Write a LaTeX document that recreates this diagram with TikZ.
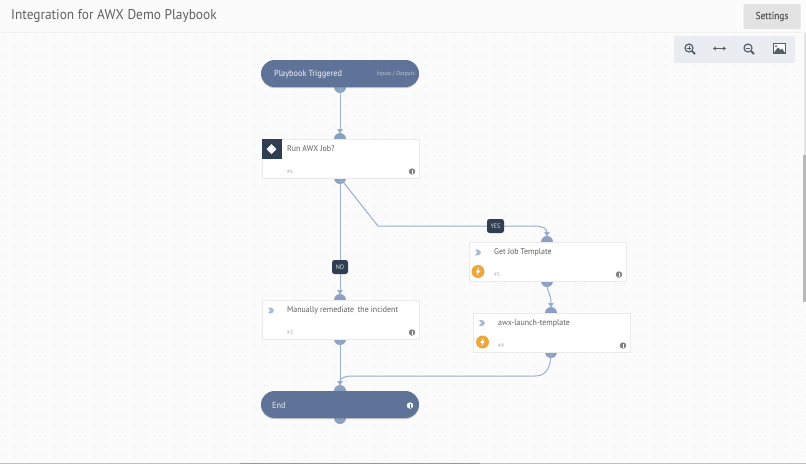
\documentclass[tikz,border=0pt]{standalone}
\usepackage{fontspec}
\setmainfont[FakeStretch=0.94]{PT Sans}
\usetikzlibrary{arrows.meta,calc,shadows}
\definecolor{bgc}{HTML}{FBFBFC}
\definecolor{dotc}{HTML}{E2E4EA}
\definecolor{bandc}{HTML}{5F7398}
\definecolor{portc}{HTML}{8CA1C1}
\definecolor{linec}{HTML}{9BAFCB}
\definecolor{dark}{HTML}{2F3E50}
\definecolor{txt}{HTML}{606064}
\definecolor{faint}{HTML}{A8A8AE}
\definecolor{amber}{HTML}{EBA83C}
\definecolor{chev}{HTML}{A9BBD6}
\definecolor{iconc}{HTML}{55606A}
\definecolor{toolc}{HTML}{E9EDF1}
\tikzset{
  x=1pt,y=-1pt,
  portn/.style={circle,fill=portc,minimum size=12pt,inner sep=0pt},
  softshadow/.style={general shadow={fill=black!50,opacity=.4,shadow xshift=0pt,shadow yshift=-1pt}},
  taskbox/.style={softshadow,draw=black!8,line width=.6pt,fill=white,minimum width=157pt,minimum height=39pt,inner sep=0pt},
  bandbox/.style={softshadow,fill=bandc,rounded corners=13.5pt,minimum width=158pt,minimum height=27pt,inner sep=0pt},
  wire/.style={draw=linec,line width=1pt},
  wirearrow/.style={wire,-{Triangle[length=4.5pt,width=5.5pt,fill=portc]}},
  tasktext/.style={text=txt,font=\fontsize{8.4}{10}\selectfont,anchor=west,inner sep=0pt},
  idtext/.style={text=faint,font=\fontsize{5.5}{6}\selectfont,anchor=west,inner sep=0pt},
  decision/.style={fill=dark,rounded corners=2.5pt,text=white!85!dark,font=\fontsize{6.5}{7}\selectfont,inner sep=0pt,minimum height=14pt},
  bolt/.style={circle,fill=amber,minimum size=13pt,inner sep=0pt},
  toolic/.style={draw=iconc,line width=1.2pt},
}
\newcommand{\chevico}[1]{\fill[chev] ($(#1)+(-3,-3)$) .. controls ($(#1)+(1,-3.5)$) and ($(#1)+(3,-1.5)$) .. ($(#1)+(3,0)$) .. controls ($(#1)+(3,1.5)$) and ($(#1)+(1,3.5)$) .. ($(#1)+(-3,3)$) -- ($(#1)+(-0.8,0)$) -- cycle;}
\newcommand{\boltico}[1]{\fill[white] ($(#1)+(1,-4)$) -- ($(#1)+(-2.3,0.8)$) -- ($(#1)+(-0.2,0.8)$) -- ($(#1)+(-1,4)$) -- ($(#1)+(2.3,-1)$) -- ($(#1)+(0.2,-1)$) -- cycle;}
\newcommand{\infoico}[3]{\fill[#2] (#1) circle (3.2pt); \fill[#3] ($(#1)+(-.45,-.6)$) rectangle ($(#1)+(.45,2)$); \fill[#3] ($(#1)+(-.45,-2)$) rectangle ($(#1)+(.45,-1.1)$);}
\begin{document}
\begin{tikzpicture}
\useasboundingbox (0,0) rectangle (806,464);
\fill[bgc] (0,0) rectangle (806,464);
% dot grid
\foreach \gx in {5,15,...,805}{\foreach \gy in {36,46,...,460}{\fill[dotc] (\gx,\gy) circle (.55pt);}}
% header
\fill[bgc] (0,0) rectangle (806,32);
\draw[black!5,line width=.8pt] (0,32.5) -- (806,32.5);
\node[text=txt,font=\fontsize{14.2}{16}\selectfont,anchor=west,inner sep=0pt] (title) at (11,16) {Integration for AWX Demo Playbook};
\node[fill=black!11,minimum width=57pt,minimum height=25pt,inner sep=0pt,rounded corners=1pt,text=black!65,font=\fontsize{10}{11}\selectfont\addfontfeature{FakeBold=.4}] (settings) at (772,16.5) {Settings};
% toolbar
\node[fill=toolc,minimum width=121pt,minimum height=27pt,rounded corners=2pt,inner sep=0pt] (toolbar) at (734.5,49.5) {};
% zoom in
\draw[toolic] (689,48) circle (4pt); \draw[toolic,line width=1.8pt] (692,51) -- (695,54);
\draw[iconc,line width=.8pt] (687,48) -- (691,48) (689,46) -- (689,50);
% fit width
\draw[toolic,{Stealth[length=3pt,width=4pt]}-{Stealth[length=3pt,width=4pt]}] (713,48.5) -- (726,48.5);
% zoom out
\draw[toolic] (748,48) circle (4pt); \draw[toolic,line width=1.8pt] (751,51) -- (754,54);
\draw[iconc,line width=.8pt] (746,48) -- (750,48);
% image
\draw[iconc,line width=.9pt,fill=white] (773,43.5) rectangle (785,53.5);
\fill[iconc] (773.5,53) -- (778,47.5) -- (780.5,50) -- (782,48.5) -- (785,53) -- cycle;
\fill[iconc] (776,46.3) circle (1.1pt);
% scrollbars
\fill[black!28] (803,155) rectangle (806,302);
\fill[black!10] (804,33) rectangle (806,155);
\fill[black!25] (0,462.5) rectangle (806,464);
\fill[black!40] (240,462.5) rectangle (480,464);

% ports
\node[portn] (p1b) at (340,87) {};
\node[portn] (p2t) at (340,139) {};
\node[portn] (p2b) at (340,178) {};
\node[portn] (p3t) at (547,242) {};
\node[portn] (p3b) at (547,281) {};
\node[portn] (p4t) at (551,313) {};
\node[portn] (p4b) at (551,352) {};
\node[portn] (p5t) at (340,300) {};
\node[portn] (p5b) at (340,339) {};
\node[portn] (p6t) at (340,391) {};
\node[portn] (p6b) at (340,418) {};
\coordinate (a2) at (340,133.5);
\coordinate (a3) at (547,236.5);
\coordinate (a4) at (551,307.5);
\coordinate (a5) at (340,294.5);
\coordinate (a6) at (340,385.5);

% connectors
\draw[wirearrow] (p1b.center) -- (a2);
\draw[wirearrow] (p2b.center) -- (a5);
\draw[wirearrow] (p2b.center) -- (378,226) -- (535,226) .. controls (543,226) and (547,229) .. (a3);
\draw[wirearrow] (p3b.center) .. controls (547,295) and (551,292) .. (a4);
\draw[wire] (p5b.center) -- (a6);
\draw[wirearrow] (p4b.center) .. controls (551,368) and (546,376) .. (535,376) -- (352,376) .. controls (344,376) and (340,379) .. (a6);

% boxes
\node[bandbox] (start) at (340,73.5) {};
\node[text=white!92!bandc,font=\fontsize{8.8}{10}\selectfont,anchor=west,inner sep=0pt] (startt) at (274,74) {Playbook Triggered};
\node[text=white!62!bandc,font=\fontsize{5.8}{6}\selectfont,anchor=east,inner sep=0pt] (startio) at (415,74) {Inputs / Outputs};

\node[taskbox] (run) at (340.5,158.5) {};
\node[fill=dark,minimum size=20pt,inner sep=0pt,anchor=north west] (runic) at (262,139) {};
\fill[white] (271.5,144) -- (276.5,149) -- (271.5,154) -- (266.5,149) -- cycle;
\node[tasktext] (runt) at (287,149) {Run AWX Job?};
\node[idtext] (runid) at (287,171.5) {\#6};
\infoico{412,171.5}{black!50}{white}

\node[taskbox] (getj) at (547.5,261.5) {};
\chevico{478,252.5}
\node[bolt] (getb) at (478,271.5) {};
\boltico{478,271.5}
\node[tasktext] (gett) at (494,252.5) {Get Job Template};
\node[idtext] (getid) at (494,274.5) {\#5};
\infoico{619,274.5}{black!50}{white}

\node[taskbox] (awx) at (551.5,332.5) {};
\chevico{482,323}
\node[bolt] (awxb) at (482.5,342) {};
\boltico{482.5,342}
\node[tasktext] (awxt) at (498,323) {awx-launch-template};
\node[idtext] (awxid) at (498,345.5) {\#4};
\infoico{623,345.5}{black!50}{white}

\node[taskbox] (man) at (340.5,319.5) {};
\chevico{271,310.5}
\node[tasktext] (mant) at (287,310.5) {Manually remediate\, the incident};
\node[idtext] (manid) at (287,333) {\#3};
\infoico{412,332.5}{black!50}{white}

\node[bandbox] (end) at (340,404.5) {};
\node[text=white!85!bandc,font=\fontsize{8.8}{10}\selectfont,anchor=west,inner sep=0pt] (endt) at (272,405) {End};
\infoico{410,405.5}{white}{bandc}

% decisions
\node[decision,minimum width=17pt] (yes) at (495.5,226) {YES};
\node[decision,minimum width=16pt] (no) at (340,267) {NO};
\end{tikzpicture}
\end{document}
